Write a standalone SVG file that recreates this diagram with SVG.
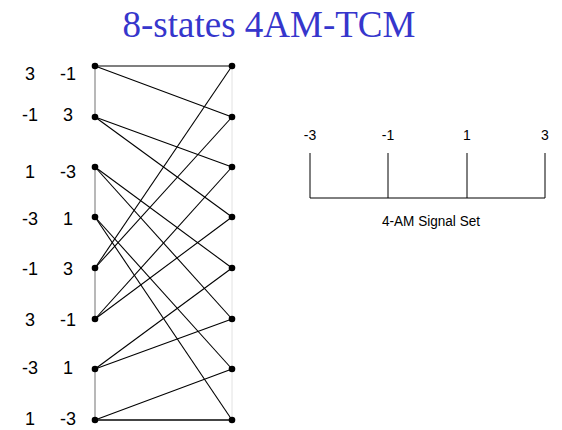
<svg xmlns="http://www.w3.org/2000/svg" width="562" height="430" viewBox="0 0 562 430">
<style>
.lbl{font-family:"Liberation Sans",Arial,sans-serif;font-size:18px;fill:#000;text-anchor:middle}
.sig{font-family:"Liberation Sans",Arial,sans-serif;font-size:14px;fill:#000;text-anchor:middle}
.e{stroke:#000;stroke-width:1.1;fill:none}
.lv{stroke:#b8b8b8;stroke-width:2;fill:none}
.rv{stroke:#e2e2e2;stroke-width:1;fill:none}
.tk{stroke:#000;stroke-width:1;fill:none}
.dot{fill:#000}
</style>
<rect width="562" height="430" fill="#fff"/>
<text x="269" y="37" font-family="'Liberation Serif','Times New Roman',serif" font-size="37" fill="#3636CC" text-anchor="middle">8-states 4AM-TCM</text>
<g id="columns">
<line class="rv" x1="232" y1="66" x2="232" y2="420"/>
<line class="lv" x1="95" y1="66" x2="95" y2="117"/>
<line class="lv" x1="95" y1="167" x2="95" y2="217"/>
<line class="lv" x1="95" y1="268" x2="95" y2="319"/>
<line class="lv" x1="95" y1="369" x2="95" y2="420"/>
</g>
<g id="connectors">
<line class="e" x1="95" y1="66" x2="232" y2="66"/>
<line class="e" x1="95" y1="66" x2="232" y2="117"/>
<line class="e" x1="95" y1="117" x2="232" y2="167"/>
<line class="e" x1="95" y1="117" x2="232" y2="217"/>
<line class="e" x1="95" y1="167" x2="232" y2="268"/>
<line class="e" x1="95" y1="167" x2="232" y2="319"/>
<line class="e" x1="95" y1="217" x2="232" y2="369"/>
<line class="e" x1="95" y1="217" x2="232" y2="420"/>
<line class="e" x1="95" y1="268" x2="232" y2="66"/>
<line class="e" x1="95" y1="268" x2="232" y2="117"/>
<line class="e" x1="95" y1="319" x2="232" y2="167"/>
<line class="e" x1="95" y1="319" x2="232" y2="217"/>
<line class="e" x1="95" y1="369" x2="232" y2="268"/>
<line class="e" x1="95" y1="369" x2="232" y2="319"/>
<line class="e" x1="95" y1="420" x2="232" y2="369"/>
<line x1="95" y1="420" x2="232" y2="420" stroke="#444" stroke-width="2"/>
</g>
<g id="state0"><circle class="dot" cx="95" cy="66" r="3.3"/><circle class="dot" cx="232" cy="66" r="3.3"/><text class="lbl" x="30" y="80">3</text><text class="lbl" x="68" y="80">-1</text></g>
<g id="state1"><circle class="dot" cx="95" cy="117" r="3.3"/><circle class="dot" cx="232" cy="117" r="3.3"/><text class="lbl" x="30" y="121">-1</text><text class="lbl" x="68" y="121">3</text></g>
<g id="state2"><circle class="dot" cx="95" cy="167" r="3.3"/><circle class="dot" cx="232" cy="167" r="3.3"/><text class="lbl" x="30" y="178">1</text><text class="lbl" x="68" y="178">-3</text></g>
<g id="state3"><circle class="dot" cx="95" cy="217" r="3.3"/><circle class="dot" cx="232" cy="217" r="3.3"/><text class="lbl" x="30" y="225">-3</text><text class="lbl" x="68" y="225">1</text></g>
<g id="state4"><circle class="dot" cx="95" cy="268" r="3.3"/><circle class="dot" cx="232" cy="268" r="3.3"/><text class="lbl" x="30" y="275">-1</text><text class="lbl" x="68" y="275">3</text></g>
<g id="state5"><circle class="dot" cx="95" cy="319" r="3.3"/><circle class="dot" cx="232" cy="319" r="3.3"/><text class="lbl" x="30" y="326">3</text><text class="lbl" x="68" y="326">-1</text></g>
<g id="state6"><circle class="dot" cx="95" cy="369" r="3.3"/><circle class="dot" cx="232" cy="369" r="3.3"/><text class="lbl" x="30" y="374">-3</text><text class="lbl" x="68" y="374">1</text></g>
<g id="state7"><circle class="dot" cx="95" cy="420" r="3.3"/><circle class="dot" cx="232" cy="420" r="3.3"/><text class="lbl" x="30" y="425">1</text><text class="lbl" x="68" y="425">-3</text></g>
<g id="signal-set">
<line class="tk" x1="310" y1="153" x2="310" y2="198"/>
<line class="tk" x1="388" y1="153" x2="388" y2="198"/>
<line class="tk" x1="467" y1="153" x2="467" y2="198"/>
<line class="tk" x1="545" y1="153" x2="545" y2="198"/>
<line class="tk" x1="310" y1="198" x2="545" y2="198"/>
<text class="sig" x="310" y="140">-3</text>
<text class="sig" x="388" y="140">-1</text>
<text class="sig" x="467" y="140">1</text>
<text class="sig" x="545" y="140">3</text>
<text class="sig" x="431" y="226" textLength="98" lengthAdjust="spacingAndGlyphs">4-AM Signal Set</text>
</g>
</svg>
